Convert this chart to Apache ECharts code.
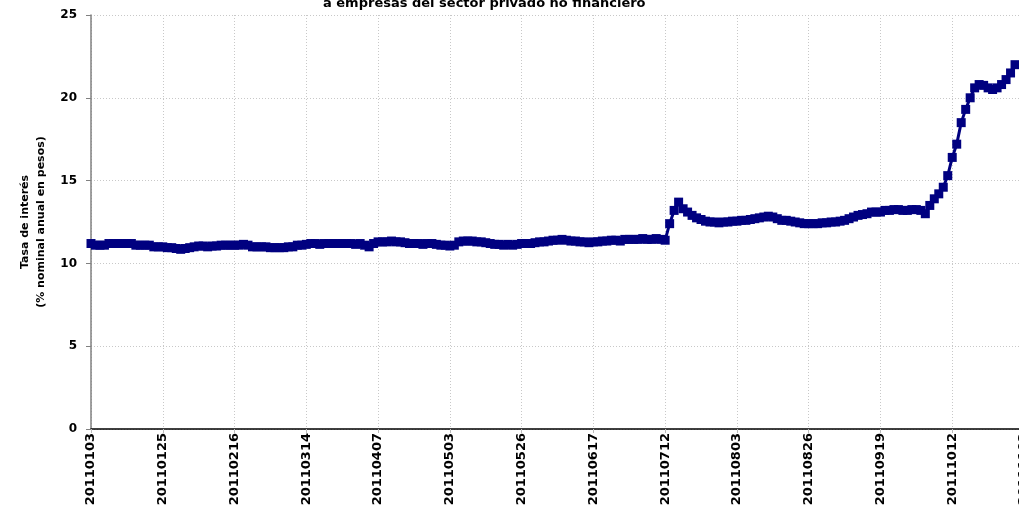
<!DOCTYPE html>
<html>
<head>
<meta charset="utf-8">
<script src="https://cdn.jsdelivr.net/npm/echarts@6/dist/echarts.min.js"></script>
<style>
    html, body { margin: 0; padding: 0; background: #fff; }
    #chart { width: 1019px; height: 512px; }
</style>
</head>
<body>
<div id="chart"></div>
<script>
    // dias habiles 2011 (categorias del eje x)
    var fechas = [
        '20110103','20110104','20110105','20110106','20110107','20110110','20110111','20110112','20110113','20110114',
        '20110117','20110118','20110119','20110120','20110121','20110124','20110125','20110126','20110127','20110128',
        '20110131','20110201','20110202','20110203','20110204','20110207','20110208','20110209','20110210','20110211',
        '20110214','20110215','20110216','20110217','20110218','20110221','20110222','20110223','20110224','20110225',
        '20110228','20110301','20110302','20110303','20110304','20110309','20110310','20110311','20110314','20110315',
        '20110316','20110317','20110318','20110321','20110322','20110323','20110328','20110329','20110330','20110331',
        '20110401','20110404','20110405','20110406','20110407','20110408','20110411','20110412','20110413','20110414',
        '20110415','20110418','20110419','20110420','20110425','20110426','20110427','20110428','20110429','20110502',
        '20110503','20110504','20110505','20110506','20110509','20110510','20110511','20110512','20110513','20110516',
        '20110517','20110518','20110519','20110520','20110523','20110524','20110526','20110527','20110530','20110531',
        '20110601','20110602','20110603','20110606','20110607','20110608','20110609','20110610','20110613','20110614',
        '20110615','20110616','20110617','20110621','20110622','20110623','20110624','20110627','20110628','20110629',
        '20110630','20110701','20110704','20110705','20110706','20110707','20110708','20110711','20110712','20110713',
        '20110714','20110715','20110718','20110719','20110720','20110721','20110722','20110725','20110726','20110727',
        '20110728','20110729','20110801','20110802','20110803','20110804','20110805','20110808','20110809','20110810',
        '20110811','20110812','20110815','20110816','20110817','20110818','20110819','20110823','20110824','20110825',
        '20110826','20110829','20110830','20110831','20110901','20110902','20110905','20110906','20110907','20110908',
        '20110909','20110912','20110913','20110914','20110915','20110916','20110919','20110920','20110921','20110922',
        '20110923','20110926','20110927','20110928','20110929','20110930','20111003','20111004','20111005','20111006',
        '20111007','20111011','20111012','20111013','20111014','20111017','20111018','20111019','20111020','20111021',
        '20111024','20111025','20111026','20111027','20111028','20111031','20111101','20111102','20111103'
    ]

    // tasa (% nominal anual en pesos)
    var tasa = [
        11.2, 11.1, 11.1, 11.1, 11.2, 11.2, 11.2, 11.2, 11.2, 11.2,
        11.1, 11.1, 11.1, 11.1, 11.0, 11.0, 11.0, 10.95, 10.95, 10.9,
        10.85, 10.9, 10.95, 11.0, 11.05, 11.05, 11.0, 11.05, 11.05, 11.1,
        11.1, 11.1, 11.1, 11.1, 11.15, 11.1, 11.0, 11.0, 11.0, 11.0,
        10.95, 10.95, 10.95, 10.95, 11.0, 11.0, 11.1, 11.1, 11.15, 11.2,
        11.2, 11.15, 11.2, 11.2, 11.2, 11.2, 11.2, 11.2, 11.2, 11.15,
        11.2, 11.1, 11.0, 11.2, 11.3, 11.3, 11.3, 11.35, 11.3, 11.3,
        11.25, 11.2, 11.2, 11.2, 11.15, 11.2, 11.2, 11.15, 11.1, 11.1,
        11.05, 11.1, 11.3, 11.35, 11.35, 11.35, 11.3, 11.3, 11.25, 11.2,
        11.15, 11.15, 11.1, 11.15, 11.1, 11.15, 11.2, 11.2, 11.2, 11.25,
        11.3, 11.3, 11.35, 11.4, 11.4, 11.45, 11.4, 11.35, 11.35, 11.3,
        11.3, 11.25, 11.3, 11.3, 11.35, 11.35, 11.4, 11.4, 11.35, 11.45,
        11.45, 11.45, 11.45, 11.5, 11.45, 11.45, 11.5, 11.45, 11.4, 12.4,
        13.2, 13.7, 13.3, 13.1, 12.9, 12.75, 12.65, 12.55, 12.5, 12.5,
        12.45, 12.5, 12.5, 12.55, 12.55, 12.6, 12.6, 12.65, 12.7, 12.75,
        12.8, 12.85, 12.8, 12.7, 12.6, 12.6, 12.55, 12.5, 12.45, 12.4,
        12.4, 12.4, 12.4, 12.45, 12.45, 12.5, 12.5, 12.55, 12.6, 12.7,
        12.8, 12.9, 12.95, 13.0, 13.1, 13.1, 13.1, 13.2, 13.2, 13.25,
        13.25, 13.2, 13.2, 13.25, 13.25, 13.2, 13.0, 13.5, 13.9, 14.2,
        14.6, 15.3, 16.4, 17.2, 18.5, 19.3, 20.0, 20.6, 20.8, 20.75,
        20.6, 20.5, 20.6, 20.8, 21.1, 21.5, 22.0
    ]

    var titulo = 'a empresas del sector privado no financiero'
    var nombreEje = 'Tasa de interés\n(% nominal anual en pesos)'

    var chart = echarts.init(document.getElementById('chart'))
    chart.setOption({
        animation: false,
        title: {
            text: titulo,
            left: 318,
            top: -8,
            textStyle: {
                fontFamily: 'DejaVu Sans',
                fontSize: 13,
                fontWeight: 'bold',
                color: '#000'
            }
        },
        grid: {
            left: 91,
            top: 15,
            width: 933,
            height: 414,
            outerBoundsMode: 'none'
        },
        xAxis: {
            type: 'category',
            data: fechas,
            boundaryGap: false,
            axisLine: { lineStyle: { color: '#000', width: 1.5 } },
            axisTick: { show: true, interval: 15, length: 4, lineStyle: { color: '#bbb' } },
            axisLabel: {
                interval: 15,
                rotate: 90,
                margin: 4,
                fontFamily: 'DejaVu Sans',
                fontSize: 13,
                fontWeight: 'bold',
                color: '#000'
            },
            splitLine: {
                show: true,
                interval: 15,
                lineStyle: { color: '#c8c8c8', type: [1, 2], width: 1 }
            }
        },
        yAxis: {
            type: 'value',
            min: 0,
            max: 25,
            interval: 5,
            name: nombreEje,
            nameLocation: 'middle',
            nameGap: 40,
            nameRotate: 90,
            nameTextStyle: {
                fontFamily: 'DejaVu Sans',
                fontSize: 11,
                fontWeight: 'bold',
                color: '#000',
                lineHeight: 16
            },
            axisLine: { show: true, lineStyle: { color: '#808080', width: 1.5 } },
            axisTick: { show: true, length: 5, lineStyle: { color: '#808080' } },
            axisLabel: {
                margin: 14,
                fontFamily: 'DejaVu Sans',
                fontSize: 12,
                fontWeight: 'bold',
                color: '#000'
            },
            splitLine: {
                lineStyle: { color: '#c8c8c8', type: [1, 2], width: 1 }
            }
        },
        series: [{
            name: 'Tasa',
            type: 'line',
            data: tasa,
            symbol: 'rect',
            symbolSize: 9,
            showAllSymbol: true,
            itemStyle: { color: '#000080' },
            lineStyle: { color: '#000080', width: 3 }
        }]
    })
</script>
</body>
</html>
